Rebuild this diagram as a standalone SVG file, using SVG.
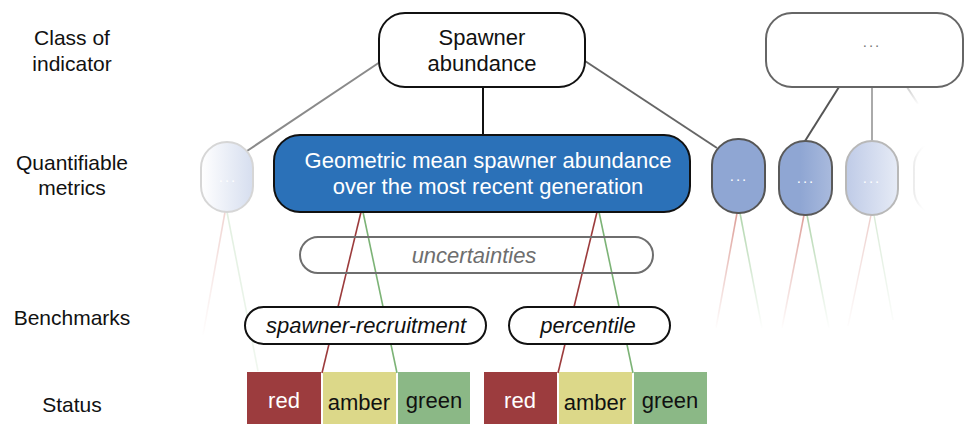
<svg xmlns="http://www.w3.org/2000/svg" width="964" height="424" viewBox="0 0 964 424">
<style>
text{font-family:"Liberation Sans",Arial,sans-serif;}
.lbl{font-size:21px;fill:#111;text-anchor:middle;}
.big{font-size:22px;text-anchor:middle;}
.it{font-style:italic;font-size:22px;text-anchor:middle;}
.dots{font-size:15px;fill:#fff;text-anchor:middle;letter-spacing:2px;}
.red{stroke:#9c3b3c;stroke-width:1.6;fill:none;}
.grn{stroke:#7cb376;stroke-width:1.6;fill:none;}
</style>
<defs>
<linearGradient id="gLeft" x1="0" y1="0" x2="1" y2="0"><stop offset="0" stop-color="#ffffff"/><stop offset="1" stop-color="#d6deef"/></linearGradient>
<linearGradient id="gP2" x1="0" y1="0" x2="1" y2="0"><stop offset="0.4" stop-color="#8fa6d3"/><stop offset="1" stop-color="#a9badd"/></linearGradient>
<linearGradient id="gP3" x1="0" y1="0" x2="1" y2="0"><stop offset="0" stop-color="#bfcbe7"/><stop offset="1" stop-color="#e6ebf6"/></linearGradient>
<linearGradient id="gP4" x1="0" y1="0" x2="1" y2="0"><stop offset="0" stop-color="#ececec"/><stop offset="0.25" stop-color="#ffffff" stop-opacity="0"/></linearGradient>
<linearGradient id="fRed" gradientUnits="userSpaceOnUse" x1="0" y1="213" x2="0" y2="330"><stop offset="0" stop-color="#d4867e" stop-opacity="0.8"/><stop offset="1" stop-color="#d4867e" stop-opacity="0"/></linearGradient>
<linearGradient id="fGrn" gradientUnits="userSpaceOnUse" x1="0" y1="213" x2="0" y2="330"><stop offset="0" stop-color="#9cca97" stop-opacity="0.8"/><stop offset="1" stop-color="#9cca97" stop-opacity="0"/></linearGradient>
<linearGradient id="fRedL" gradientUnits="userSpaceOnUse" x1="0" y1="212" x2="0" y2="340"><stop offset="0" stop-color="#d4867e" stop-opacity="0.35"/><stop offset="1" stop-color="#d4867e" stop-opacity="0"/></linearGradient>
<linearGradient id="fGrnL" gradientUnits="userSpaceOnUse" x1="0" y1="212" x2="0" y2="372"><stop offset="0" stop-color="#9cca97" stop-opacity="0.3"/><stop offset="1" stop-color="#9cca97" stop-opacity="0.15"/></linearGradient>
<linearGradient id="fGray" gradientUnits="userSpaceOnUse" x1="0" y1="87" x2="0" y2="105"><stop offset="0" stop-color="#ccc"/><stop offset="1" stop-color="#ccc" stop-opacity="0"/></linearGradient>
</defs>

<!-- row labels -->
<g id="labels">
<text class="lbl" x="72" y="45">Class of</text>
<text class="lbl" x="72" y="71">indicator</text>
<text class="lbl" x="72" y="170">Quantifiable</text>
<text class="lbl" x="72" y="195">metrics</text>
<text class="lbl" x="72" y="325">Benchmarks</text>
<text class="lbl" x="72" y="412">Status</text>
</g>

<!-- connectors -->
<g id="connectors">
<line x1="380" y1="62" x2="247" y2="151" stroke="#8a8a8a" stroke-width="2"/>
<line x1="585" y1="61" x2="717" y2="148" stroke="#666" stroke-width="2"/>
<line x1="483" y1="87" x2="483" y2="135" stroke="#111" stroke-width="2"/>
<line x1="839" y1="87" x2="805" y2="141" stroke="#555" stroke-width="2"/>
<line x1="872" y1="87" x2="872" y2="141" stroke="#aaa" stroke-width="2"/>
<line x1="907" y1="87" x2="918" y2="104" stroke="url(#fGray)" stroke-width="2"/>
<!-- main metric to statuses -->
<line class="red" x1="361" y1="212" x2="322" y2="373"/>
<line class="grn" x1="363" y1="212" x2="397" y2="373"/>
<line class="red" x1="597" y1="212" x2="558" y2="373"/>
<line class="grn" x1="599" y1="212" x2="633" y2="373"/>
<!-- faded -->
<line x1="225" y1="212" x2="203" y2="335" stroke="url(#fRedL)" stroke-width="1.6"/>
<line x1="227" y1="212" x2="258" y2="371" stroke="url(#fGrnL)" stroke-width="1.6"/>
<line x1="737" y1="213" x2="716" y2="328" stroke="url(#fRed)" stroke-width="1.6"/>
<line x1="740" y1="213" x2="762" y2="328" stroke="url(#fGrn)" stroke-width="1.6"/>
<line x1="804" y1="215" x2="782" y2="328" stroke="url(#fRed)" stroke-width="1.6"/>
<line x1="807" y1="215" x2="829" y2="328" stroke="url(#fGrn)" stroke-width="1.6"/>
<line x1="871" y1="215" x2="848" y2="326" stroke="url(#fRed)" stroke-width="1.4" opacity="0.5"/>
<line x1="874" y1="215" x2="893" y2="320" stroke="url(#fGrn)" stroke-width="1.4" opacity="0.5"/>
</g>

<!-- class of indicator -->
<g id="spawner">
<rect x="379" y="13" width="206" height="74" rx="26" fill="#fff" stroke="#111" stroke-width="2"/>
<text class="big" x="482" y="45" fill="#111">Spawner</text>
<text class="big" x="482" y="71" fill="#111">abundance</text>
</g>
<g id="other-class">
<rect x="766" y="13" width="197" height="74" rx="26" fill="#fff" stroke="#666" stroke-width="2"/>
<text x="872" y="47" font-size="15" fill="#777" text-anchor="middle" letter-spacing="2">...</text>
</g>

<!-- metrics -->
<g id="metric-left">
<rect x="201" y="142" width="52" height="70" rx="26" fill="url(#gLeft)" stroke="#d6d6d6" stroke-width="2"/>
<text class="dots" x="228" y="182">...</text>
</g>
<g id="metric-main">
<rect x="274" y="135" width="416" height="77" rx="26" fill="#2b71b8" stroke="#111" stroke-width="2"/>
<text class="big" x="488" y="168" fill="#fff">Geometric mean spawner abundance</text>
<text class="big" x="488" y="194" fill="#fff">over the most recent generation</text>
</g>
<g id="metric-1">
<rect x="712" y="139" width="53" height="74" rx="26" fill="#8fa6d3" stroke="#555" stroke-width="2"/>
<text class="dots" x="739" y="181">...</text>
</g>
<g id="metric-2">
<rect x="779" y="141" width="53" height="74" rx="26" fill="url(#gP2)" stroke="#5a5a5a" stroke-width="2"/>
<text class="dots" x="806" y="183">...</text>
</g>
<g id="metric-3">
<rect x="846" y="141" width="52" height="74" rx="26" fill="url(#gP3)" stroke="#b8b8b8" stroke-width="2"/>
<text class="dots" x="872" y="183">...</text>
</g>
<g id="metric-4">
<rect x="914" y="141" width="52" height="74" rx="26" fill="none" stroke="url(#gP4)" stroke-width="2"/>
</g>

<!-- uncertainties -->
<g id="uncertainties">
<rect x="300" y="237" width="353" height="36" rx="18" fill="none" stroke="#6e6e6e" stroke-width="2"/>
<text class="it" x="474" y="263" fill="#6e6e6e">uncertainties</text>
</g>

<!-- benchmarks -->
<g id="bm-sr">
<rect x="245" y="307" width="241" height="37" rx="18.5" fill="#fff" stroke="#111" stroke-width="2"/>
<text class="it" x="366" y="333" fill="#111">spawner-recruitment</text>
</g>
<g id="bm-pct">
<rect x="509" y="307" width="161" height="37" rx="18.5" fill="#fff" stroke="#111" stroke-width="2"/>
<text class="it" x="588" y="333" fill="#111">percentile</text>
</g>

<!-- status -->
<g id="status-sr">
<rect x="247" y="372" width="74" height="52" fill="#9c3c3e"/>
<rect x="323" y="372" width="73" height="52" fill="#dcd889"/>
<rect x="398" y="372" width="72" height="52" fill="#8bb886"/>
<text class="big" x="284" y="408" fill="#fff">red</text>
<text class="big" x="359" y="410" fill="#111">amber</text>
<text class="big" x="434" y="408" fill="#111">green</text>
</g>
<g id="status-pct">
<rect x="484" y="372" width="73" height="52" fill="#9c3c3e"/>
<rect x="559" y="372" width="73" height="52" fill="#dcd889"/>
<rect x="634" y="372" width="73" height="52" fill="#8bb886"/>
<text class="big" x="520" y="408" fill="#fff">red</text>
<text class="big" x="595" y="410" fill="#111">amber</text>
<text class="big" x="670" y="408" fill="#111">green</text>
</g>
</svg>
